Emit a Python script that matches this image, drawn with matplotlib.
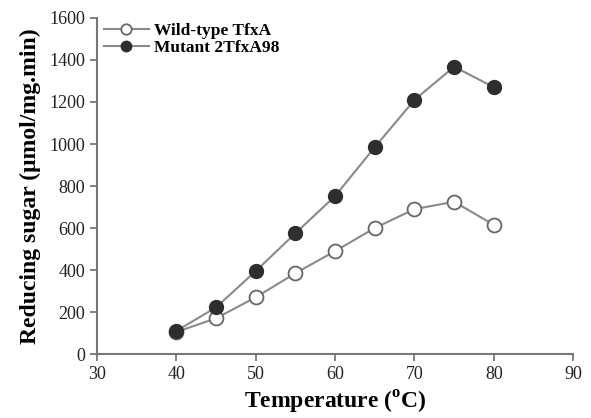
import matplotlib
matplotlib.use("Agg")
import matplotlib.pyplot as plt

# dane
temperature = [40, 45, 50, 55, 60, 65, 70, 75, 80]
wild_type = [105, 170, 270, 385, 490, 600, 690, 725, 615]
mutant = [110, 222, 395, 575, 752, 985, 1210, 1368, 1270]

x_ticks = [30, 40, 50, 60, 70, 80, 90]
y_ticks = [0, 200, 400, 600, 800, 1000, 1200, 1400, 1600]

plt.rcParams['font.family'] = ['Liberation Serif', 'DejaVu Serif']
plt.rcParams['mathtext.fontset'] = 'custom'
plt.rcParams['mathtext.rm'] = 'Liberation Serif'
plt.rcParams['mathtext.bf'] = 'Liberation Serif:bold'

fig = plt.figure(figsize=(5.91, 4.18), dpi=100)
ax = fig.add_axes([0.164, 0.153, 0.806, 0.804])

line_col = '#8a8a8a'
ax.plot(temperature, wild_type, '-o', color=line_col, lw=1.5,
        markersize=10, markerfacecolor='white', markeredgecolor='#666666',
        markeredgewidth=1.3, label='Wild-type TfxA', zorder=3)
ax.plot(temperature, mutant, '-o', color=line_col, lw=1.5,
        markersize=10, markerfacecolor='#2e2e2e', markeredgecolor='#2e2e2e',
        label='Mutant 2TfxA98', zorder=3)

ax.set_xlim(30, 90)
ax.set_ylim(0, 1600)
ax.set_xticks(x_ticks)
ax.set_yticks(y_ticks)

for side in ['top', 'right']:
    ax.spines[side].set_visible(False)
for side in ['left', 'bottom']:
    ax.spines[side].set_color('#777777')
    ax.spines[side].set_linewidth(1.5)
ax.tick_params(direction='out', length=5, width=1.3, color='#777777',
               labelsize=13, labelcolor='#222222')

ax.set_xlabel('Temperature ($^{\\mathbf{o}}$C)', fontsize=17, fontweight='bold',
              labelpad=4)
ax.set_ylabel('Reducing sugar (\u03bcmol/mg.min)', fontsize=17, fontweight='bold',
              labelpad=6)

leg = ax.legend(loc='upper left', bbox_to_anchor=(0.0, 1.005), frameon=False,
                prop={'size': 12.5, 'weight': 'bold'}, handlelength=2.6,
                handletextpad=0.3, labelspacing=0.05, borderaxespad=0.0,
                markerscale=0.75)

plt.savefig('out.png', dpi=100)
plt.close()
